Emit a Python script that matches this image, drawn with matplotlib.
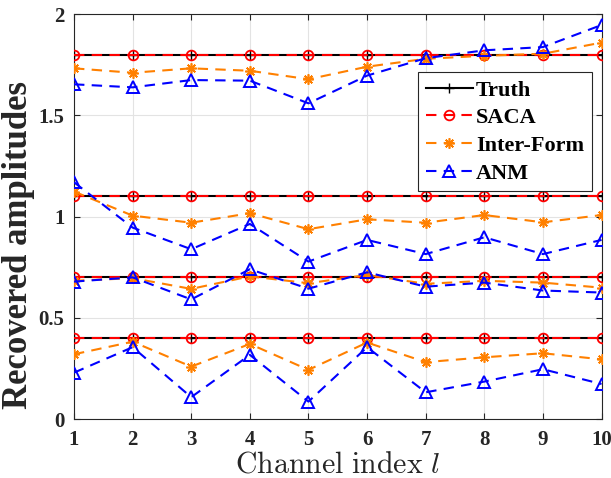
import matplotlib
matplotlib.use("Agg")
import matplotlib.pyplot as plt
import numpy as np

channels = list(range(1, 11))
truth_levels = [1.8, 1.1, 0.7, 0.4]

inter_form = [
    [1.733, 1.711, 1.733, 1.721, 1.679, 1.741, 1.780, 1.795, 1.805, 1.860],
    [1.124, 1.005, 0.970, 1.017, 0.938, 0.987, 0.970, 1.008, 0.972, 1.008],
    [0.683, 0.696, 0.643, 0.705, 0.671, 0.712, 0.668, 0.683, 0.674, 0.649],
    [0.320, 0.382, 0.259, 0.371, 0.243, 0.378, 0.281, 0.305, 0.325, 0.295],
]
anm = [
    [1.654, 1.639, 1.675, 1.672, 1.560, 1.697, 1.783, 1.822, 1.838, 1.947],
    [1.170, 0.946, 0.839, 0.964, 0.778, 0.885, 0.815, 0.898, 0.815, 0.885],
    [0.679, 0.700, 0.591, 0.740, 0.644, 0.725, 0.654, 0.674, 0.635, 0.625],
    [0.229, 0.355, 0.108, 0.317, 0.086, 0.355, 0.132, 0.185, 0.246, 0.173],
]
legend_labels = ["Truth", "SACA", "Inter-Form", "ANM"]

plt.rcParams['font.family'] = ['Liberation Serif', 'DejaVu Serif']
plt.rcParams['mathtext.fontset'] = 'cm'

fig = plt.figure(figsize=(6.11, 4.78), dpi=100)
ax = fig.add_axes([0.1211, 0.1234, 0.8634, 0.8467])

orange = '#FF8000'
blue = '#0000FF'
red = '#FF0000'
lw = 1.5
dash = (5, 3.5)

h = {}
for i, lvl in enumerate(truth_levels):
    t = [lvl] * len(channels)
    h['Truth'], = ax.plot(channels, t, '-', color='black', lw=lw, marker='+', ms=7, mew=1.0, zorder=3)
    h['SACA'], = ax.plot(channels, t, '--', color=red, lw=lw, marker='o', ms=7, mfc='none', mew=1.3, dashes=dash, zorder=4)
    h['Inter-Form'], = ax.plot(channels, inter_form[i], '--', color=orange, lw=lw, marker=(8, 2, 0), ms=7.5, mew=1.2, dashes=dash, zorder=5)
    h['ANM'], = ax.plot(channels, anm[i], '--', color=blue, lw=lw, marker='^', ms=8, mfc='none', mew=1.4, dashes=dash, zorder=6)

ax.set_xlim(1, 10)
ax.set_ylim(0, 2)
ax.set_xticks(channels)
ax.set_yticks([0, 0.5, 1, 1.5, 2])
ax.set_yticklabels(['0', '0.5', '1', '1.5', '2'])
ax.grid(True, color='#e3e3e3', lw=0.8)
ax.set_axisbelow(True)
for s in ax.spines.values():
    s.set_color('#262626')
    s.set_linewidth(0.8)
ax.tick_params(direction='in', length=4, width=0.8, colors='#262626', top=True, right=True, labelsize=15)
ax.tick_params(axis='x', pad=8)
ax.tick_params(axis='y', pad=7)
for lab in ax.get_xticklabels() + ax.get_yticklabels():
    lab.set_fontweight('bold')
ax.set_xlabel(r'$\mathrm{Channel\ index}\ l$', fontsize=21.5, color='#262626', va='top')
ax.xaxis.set_label_coords(0.5, -0.082)
ax.set_ylabel('Recovered amplitudes', fontsize=25, fontweight='bold', color='#262626')
ax.yaxis.set_label_coords(-0.073, 0.43)

leg = ax.legend([h[k] for k in legend_labels], legend_labels, loc='upper right',
                bbox_to_anchor=(0.982, 0.857), prop={'weight': 'bold', 'size': 16},
                frameon=True, fancybox=False, handlelength=2.1, handletextpad=0.15,
                borderpad=0.35, labelspacing=0.32, borderaxespad=0)
leg.get_frame().set_edgecolor('#262626')
leg.get_frame().set_linewidth(0.8)
leg.get_frame().set_alpha(1)

fig.savefig('out.png', dpi=100)
